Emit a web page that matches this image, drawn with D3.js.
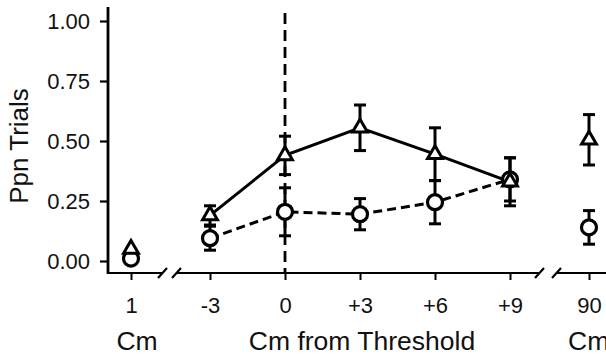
<!DOCTYPE html>
<html>
<head>
<meta charset="utf-8">
<script src="https://cdn.jsdelivr.net/npm/d3@7"></script>
<style>
  body { margin: 0; background: #fff; }
  svg { display: block; font-family: "Liberation Sans", Arial, sans-serif; }
</style>
</head>
<body>
<div class="canvas"></div>
<script>
// Data
const midSteps = [-3, 0, 3, 6, 9];
const midLabels = ["-3", "0", "+3", "+6", "+9"];
const triMid = [0.19, 0.44, 0.555, 0.445, 0.33];
const triMidErr = [0.04, 0.08, 0.095, 0.11, 0.1];
const circMid = [0.095, 0.205, 0.195, 0.245, 0.34];
const circMidErr = [0.05, 0.1, 0.065, 0.09, 0.09];

const outerCats = ["1", "90"];
const triOuter = [0.05, 0.505];
const triOuterErr = [0.0, 0.105];
const circOuter = [0.01, 0.14];
const circOuterErr = [0.0, 0.07];

const yTicks = [0, 0.25, 0.5, 0.75, 1.0];

const width = 606, height = 358;

const svg = d3.select(".canvas")
    .append("svg")
    .attr("width", width)
    .attr("height", height);

// Scales
const y = d3.scaleLinear().domain([0, 1]).range([261, 21]);
const xMid = d3.scaleLinear().domain([-3, 9]).range([210, 510]);
const xOut = d3.scaleOrdinal().domain(outerCats).range([131, 589]);

const axisY = 273;

// Y axis
const yAxis = svg.append("g")
    .attr("transform", "translate(108,0)")
    .call(d3.axisLeft(y).tickValues(yTicks).tickFormat(d3.format(".2f")).tickSize(8).tickPadding(10));
yAxis.select(".domain").remove();
yAxis.selectAll("line").attr("stroke", "#000").attr("stroke-width", 2.2);
yAxis.selectAll("text").style("font-size", "22px").attr("fill", "#111");

svg.append("line")
    .attr("x1", 108).attr("x2", 108)
    .attr("y1", 7).attr("y2", axisY + 1)
    .attr("stroke", "#000").attr("stroke-width", 2.8);

// X axis segments (broken)
const segs = [[107, 163], [176, 539], [556, 606]];
segs.forEach(s => {
    svg.append("line")
        .attr("x1", s[0]).attr("x2", s[1])
        .attr("y1", axisY).attr("y2", axisY)
        .attr("stroke", "#000").attr("stroke-width", 2.2);
});
// break marks
[[158, 167], [172, 181], [535, 544], [552, 561]].forEach(b => {
    svg.append("line")
        .attr("x1", b[0]).attr("x2", b[1])
        .attr("y1", axisY + 5).attr("y2", axisY - 5)
        .attr("stroke", "#000").attr("stroke-width", 2.2);
});

function styleX(g) {
    g.select(".domain").remove();
    g.selectAll("line").attr("stroke", "#000").attr("stroke-width", 2);
    g.selectAll("text").style("font-size", "22px").attr("fill", "#111");
}

svg.append("g")
    .attr("transform", `translate(0,${axisY})`)
    .call(d3.axisBottom(xMid).tickValues(midSteps).tickFormat((d, i) => midLabels[i]).tickSize(7).tickPadding(17))
    .call(styleX);

svg.append("g")
    .attr("transform", `translate(0,${axisY})`)
    .call(d3.axisBottom(xOut).tickSize(7).tickPadding(17))
    .call(styleX);

// Axis titles
svg.append("text")
    .attr("x", xMid(3) + 2).attr("y", 350)
    .attr("text-anchor", "middle")
    .style("font-size", "26.5px")
    .attr("fill", "#111")
    .text("Cm from Threshold");
svg.append("text")
    .attr("x", xOut("1") + 6).attr("y", 350)
    .attr("text-anchor", "middle")
    .style("font-size", "26.5px")
    .attr("fill", "#111")
    .text("Cm");
svg.append("text")
    .attr("x", xOut("90") - 21).attr("y", 350)
    .style("font-size", "26.5px")
    .attr("fill", "#111")
    .text("Cm");
svg.append("text")
    .attr("transform", "translate(28,146) rotate(-90)")
    .attr("text-anchor", "middle")
    .style("font-size", "26px")
    .attr("fill", "#111")
    .text("Ppn Trials");

// Threshold dashed line
svg.append("line")
    .attr("x1", xMid(0)).attr("x2", xMid(0))
    .attr("y1", 13).attr("y2", axisY)
    .attr("stroke", "#000").attr("stroke-width", 2.8)
    .attr("stroke-dasharray", "11,6");

// Points
const triPts = midSteps.map((s, i) => ({ x: xMid(s), v: triMid[i], e: triMidErr[i] }))
    .concat(outerCats.map((c, i) => ({ x: xOut(c), v: triOuter[i], e: triOuterErr[i] })));
const circPts = midSteps.map((s, i) => ({ x: xMid(s), v: circMid[i], e: circMidErr[i] }))
    .concat(outerCats.map((c, i) => ({ x: xOut(c), v: circOuter[i], e: circOuterErr[i] })));

const line = d3.line().x(d => d.x).y(d => y(d.v));

// Connecting lines (middle section only)
svg.append("path")
    .datum(circPts.slice(0, 5))
    .attr("d", line)
    .attr("fill", "none").attr("stroke", "#000").attr("stroke-width", 3)
    .attr("stroke-dasharray", "9,5");
svg.append("path")
    .datum(triPts.slice(0, 5))
    .attr("d", line)
    .attr("fill", "none").attr("stroke", "#000").attr("stroke-width", 3);

// Error bars
function errBars(pts) {
    const g = svg.append("g").attr("stroke", "#000").attr("stroke-width", 3);
    pts.filter(d => d.e > 0).forEach(d => {
        g.append("line").attr("x1", d.x).attr("x2", d.x)
            .attr("y1", y(d.v + d.e)).attr("y2", y(d.v - d.e));
        [d.v + d.e, d.v - d.e].forEach(v => {
            g.append("line").attr("x1", d.x - 6).attr("x2", d.x + 6)
                .attr("y1", y(v)).attr("y2", y(v));
        });
    });
}
errBars(triPts);
errBars(circPts);

// Markers
svg.append("g").selectAll("circle")
    .data(circPts)
    .join("circle")
    .attr("cx", d => d.x).attr("cy", d => y(d.v))
    .attr("r", 7.5)
    .attr("fill", "#fff").attr("stroke", "#000").attr("stroke-width", 3.2);

const tri = d3.symbol().type(d3.symbolTriangle).size(95);
svg.append("g").selectAll("path")
    .data(triPts)
    .join("path")
    .attr("d", tri)
    .attr("transform", d => `translate(${d.x},${y(d.v)})`)
    .attr("fill", "#fff").attr("stroke", "#000").attr("stroke-width", 3);
</script>
</body>
</html>
